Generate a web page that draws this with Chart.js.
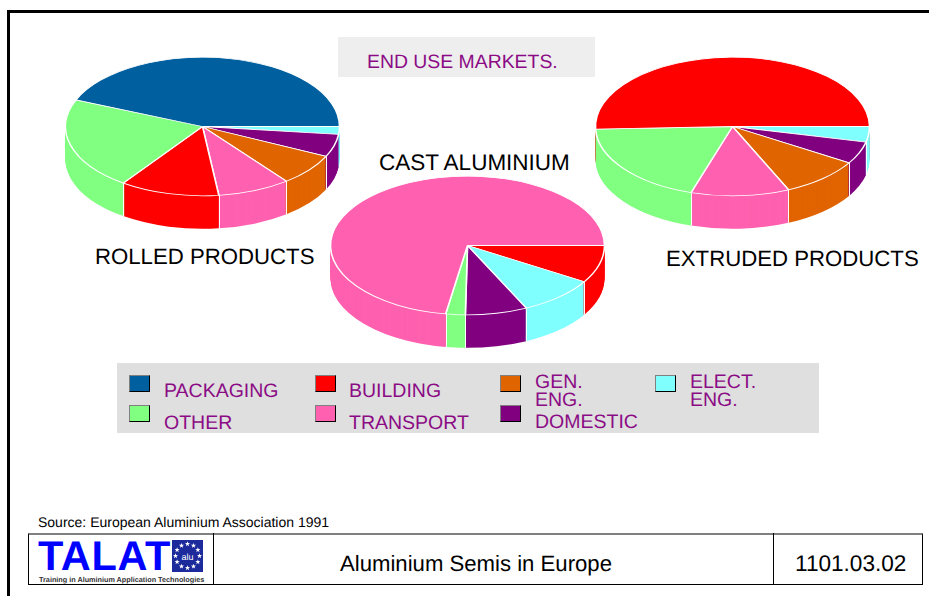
<!DOCTYPE html>
<html>
<head>
<meta charset="utf-8">
<title>End use markets</title>
<script src="https://cdn.jsdelivr.net/npm/chart.js@4/dist/chart.umd.min.js"></script>
<style>
html,body{margin:0;padding:0;background:#fff;width:929px;height:596px;overflow:hidden;font-family:"Liberation Sans",Arial,sans-serif;text-rendering:geometricPrecision}
.abs{position:absolute;white-space:nowrap}
canvas{position:absolute;display:block}
#frameL{position:absolute;left:7px;top:10px;width:3px;height:586px;background:#000}
#frameT{position:absolute;left:7px;top:10px;width:922px;height:3px;background:#000}
#endBox{position:absolute;left:338px;top:37px;width:257px;height:40px;background:#eeeeee}
#legendBox{position:absolute;left:117px;top:363px;width:702px;height:70px;background:#dfdfdf}
.lab{font-size:22.2px;color:#000;line-height:26px}
.leg{font-size:19.5px;color:#8b0b85;line-height:20px}
.sw{position:absolute;width:19px;height:15px;border:1.5px solid;border-color:#808080 #000 #000 #808080;box-sizing:content-box}
#tbl{position:absolute;left:28px;top:533px;width:895px;height:52px;box-sizing:border-box;border:1px solid #000;border-top:2px solid #808080}
.div{position:absolute;top:533px;height:52px;width:1px;background:#000}
</style>
</head>
<body>
<div id="frameL"></div><div id="frameT"></div>
<div id="endBox"></div>
<div id="legendBox"></div>
<div class="abs" style="left:367px;top:49px;font-size:19.4px;line-height:26px;color:#8b0b85">END USE MARKETS.</div>
<div class="abs lab" style="left:95px;top:244px">ROLLED PRODUCTS</div>
<div class="abs lab" style="left:379px;top:150px;font-size:22.5px">CAST ALUMINIUM</div>
<div class="abs lab" style="left:666px;top:246px">EXTRUDED PRODUCTS</div>
<div id="legend"></div>
<div class="abs" style="left:38px;top:514px;font-size:14px;line-height:16px;color:#000">Source: European Aluminium Association 1991</div>
<div id="tbl"></div>
<div class="div" style="left:213px"></div>
<div class="div" style="left:773px"></div>
<div class="abs" style="left:340px;top:551px;font-size:22.15px;line-height:26px">Aluminium Semis in Europe</div>
<div class="abs" style="left:795px;top:551px;font-size:22.6px;line-height:26px">1101.03.02</div>
<div class="abs" style="left:38px;top:534px;font-size:41.5px;font-weight:bold;line-height:44px;color:#0000ff;letter-spacing:0.6px">TALAT</div>
<div class="abs" style="left:39px;top:576px;font-size:7.25px;font-weight:bold;line-height:8px;color:#333">Training in Aluminium Application Technologies</div>
<svg id="flag" style="position:absolute;left:172px;top:540px" width="31" height="32" viewBox="0 0 31 32"></svg>

<canvas id="rolled" width="295" height="295" style="left:55px;top:-21px"></canvas>
<canvas id="extruded" width="295" height="295" style="left:585px;top:-21px"></canvas>
<canvas id="cast" width="295" height="295" style="left:320px;top:98px"></canvas>

<script>
// Category colours
const colourNames = ['PACKAGING','OTHER','BUILDING','TRANSPORT','GEN. ENG.','DOMESTIC','ELECT. ENG.'];
const colourValues = ['#005f9e','#80ff80','#ff0000','#ff60af','#e06400','#800080','#80ffff'];

// Shares (%), clockwise from the 3 o'clock position
const rolledCategories = ['ELECT. ENG.','DOMESTIC','GEN. ENG.','TRANSPORT','BUILDING','OTHER','PACKAGING'];
const rolledValues = [1.8,5.3,7.4,8.6,11.7,21.5,43.7];

const castCategories = ['BUILDING','ELECT. ENG.','DOMESTIC','OTHER','TRANSPORT'];
const castValues = [8.75,9.2,7.3,2.3,72.45];

const extrudedCategories = ['ELECT. ENG.','DOMESTIC','GEN. ENG.','TRANSPORT','OTHER','BUILDING'];
const extrudedValues = [3.6,5.2,9.5,11.6,19.5,50.6];

const colourOf = c => colourValues[colourNames.indexOf(c)];

const RADIUS = 137, TILT = 0.506, DEPTH = 33;

const pie3d = {
  id:'pie3d',
  beforeDatasetDraw(chart, args){
    const ctx = chart.ctx, arcs = args.meta.data;
    const cx = arcs[0].x, cy = arcs[0].y;
    const layer = (dy, fn) => {
      ctx.save();
      ctx.translate(cx, cy + dy);
      ctx.scale(1, TILT);
      ctx.translate(-cx, -cy);
      fn();
      ctx.restore();
    };
    for (let d = DEPTH; d >= 1; d--) {
      layer(d, () => arcs.forEach(a => {
        const g = Object.create(a);
        g.options = Object.assign({}, a.options, {borderWidth:0});
        g.draw(ctx);
      }));
    }
    arcs.forEach(a => {
      const t = a.startAngle;
      if (Math.sin(t) > 0.15) {
        const x = Math.round(cx + a.outerRadius*Math.cos(t)) + 0.5;
        const y = cy + TILT*a.outerRadius*Math.sin(t);
        ctx.save();
        ctx.strokeStyle = '#fff';
        ctx.lineWidth = 1;
        ctx.beginPath(); ctx.moveTo(x, y); ctx.lineTo(x, y + DEPTH); ctx.stroke();
        ctx.restore();
      }
    });
    layer(0, () => arcs.forEach(a => a.draw(ctx)));
    return false;
  }
};

function makePie(id, categories, values){
  new Chart(document.getElementById(id), {
    type:'pie',
    data:{labels:categories, datasets:[{
      data:values,
      backgroundColor:categories.map(colourOf),
      borderColor:'#ffffff',
      borderWidth:1.6
    }]},
    options:{
      responsive:false,
      animation:false,
      rotation:90,
      radius:RADIUS,
      layout:{padding:0},
      plugins:{legend:{display:false},tooltip:{enabled:false}}
    },
    plugins:[pie3d]
  });
}
makePie('rolled', rolledCategories, rolledValues);
makePie('extruded', extrudedCategories, extrudedValues);
makePie('cast', castCategories, castValues);

// Legend
const legendRows = [
  {c:'PACKAGING', sx:129, sy:375, lines:[['PACKAGING',164,381]]},
  {c:'OTHER', sx:129, sy:405, lines:[['OTHER',164,413]]},
  {c:'BUILDING', sx:315, sy:375, lines:[['BUILDING',349,381]]},
  {c:'TRANSPORT', sx:315, sy:405, lines:[['TRANSPORT',349,413]]},
  {c:'GEN. ENG.', sx:500, sy:375, lines:[['GEN.',535,372],['ENG.',535,390]]},
  {c:'DOMESTIC', sx:500, sy:405, lines:[['DOMESTIC',535,412]]},
  {c:'ELECT. ENG.', sx:655, sy:375, lines:[['ELECT.',690,372],['ENG.',690,390]]}
];
const legendEl = document.getElementById('legend');
legendRows.forEach(r => {
  const s = document.createElement('div');
  s.className = 'sw';
  s.style.cssText = `left:${r.sx}px;top:${r.sy}px;background:${colourOf(r.c)}`;
  legendEl.appendChild(s);
  r.lines.forEach(([t,x,y]) => {
    const e = document.createElement('div');
    e.className = 'abs leg';
    e.style.cssText = `left:${x}px;top:${y}px`;
    e.textContent = t;
    legendEl.appendChild(e);
  });
});

// Logo flag
(function(){
  const NS = 'http://www.w3.org/2000/svg', svg = document.getElementById('flag');
  const add = (n, attrs, txt) => { const e = document.createElementNS(NS,n);
    for (const k in attrs) e.setAttribute(k, attrs[k]); if (txt) e.textContent = txt; svg.appendChild(e); };
  add('rect',{x:0,y:0,width:31,height:32,fill:'#1c2a9c'});
  for (let i = 0; i < 12; i++) {
    const a = i*Math.PI/6, cx = 15.5 + 12*Math.sin(a), cy = 16 - 12*Math.cos(a);
    let p = '';
    for (let j = 0; j < 10; j++) {
      const r = j%2 ? 1.1 : 2.7, b = j*Math.PI/5;
      p += (cx + r*Math.sin(b)).toFixed(2) + ',' + (cy - r*Math.cos(b)).toFixed(2) + ' ';
    }
    add('polygon',{points:p,fill:'#fff'});
  }
  add('text',{x:15.5,y:19.5,'text-anchor':'middle','font-size':9,fill:'#fff','font-family':'Liberation Sans'},'alu');
})();
</script>
</body>
</html>
